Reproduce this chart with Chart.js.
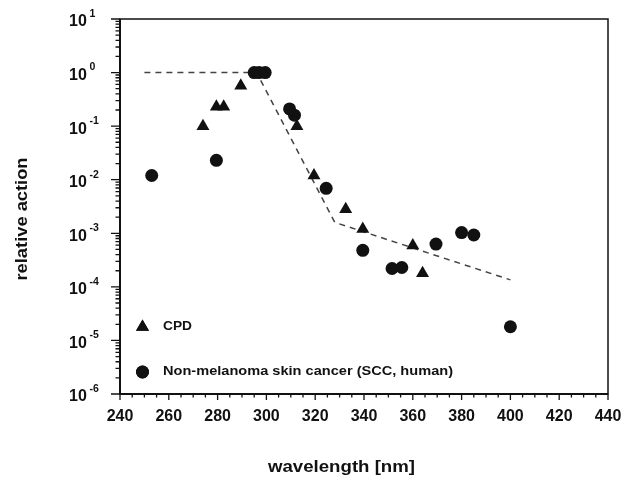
<!DOCTYPE html>
<html>
<head>
<meta charset="utf-8">
<script src="https://cdn.jsdelivr.net/npm/chart.js@4"></script>
<style>
  html, body { margin: 0; padding: 0; background: #fff; }
  #wrap { width: 632px; height: 478px; }
</style>
</head>
<body>
<div id="wrap"><canvas id="chart" width="632" height="478"></canvas></div>
<script>
// CPD action spectrum (triangles)
const cpdWavelength = [274, 279.5, 282.5, 289.5, 312.5, 319.5, 332.5, 339.5, 360, 364];
const cpdAction = [0.10, 0.23, 0.23, 0.57, 0.10, 0.012, 0.0028, 0.0012, 0.00059, 0.00018];

// Non-melanoma skin cancer, SCC human (circles)
const sccWavelength = [253, 279.5, 295, 297, 299.5, 309.5, 311.5, 324.5, 339.5, 351.5, 355.5, 369.5, 380, 385, 400];
const sccAction = [0.012, 0.023, 1.0, 1.0, 1.0, 0.21, 0.16, 0.0069, 0.00048, 0.00022, 0.00023, 0.00063, 0.00103, 0.00093, 0.000018];

// dashed reference curve
const fitWavelength = [250, 296, 328, 400];
const fitAction = [1, 1, 0.0016, 0.000135];

// axes
const xTicks = [240, 260, 280, 300, 320, 340, 360, 380, 400, 420, 440];
const yExponents = [1, 0, -1, -2, -3, -4, -5, -6];

const ink = '#111';
const FONT = '"Liberation Sans", Arial, sans-serif';

function toPoints(xs, ys) {
    return xs.map((x, i) => ({ x: x, y: ys[i] }));
}

// draw text squeezed/stretched to a given width
function fitText(ctx, text, x, y, width, font, align) {
    ctx.save();
    ctx.font = font;
    const w = ctx.measureText(text).width;
    const sx = width / w;
    ctx.translate(x, y);
    ctx.scale(sx, 1);
    ctx.textBaseline = 'middle';
    ctx.textAlign = align || 'left';
    ctx.fillText(text, 0, 0);
    ctx.restore();
}

const decorPlugin = {
    id: 'decor',
    afterDraw(chart) {
        const ctx = chart.ctx;
        const area = chart.chartArea;
        const xs = chart.scales.x;
        const ys = chart.scales.y;
        ctx.save();
        ctx.strokeStyle = ink;
        ctx.fillStyle = ink;

        // frame
        ctx.lineWidth = 1.5;
        ctx.strokeRect(area.left, area.top, area.right - area.left, area.bottom - area.top);
        ctx.lineWidth = 2;
        ctx.beginPath();
        ctx.moveTo(area.left, area.top);
        ctx.lineTo(area.left, area.bottom);
        ctx.lineTo(area.right, area.bottom);
        ctx.stroke();

        // x ticks
        ctx.lineWidth = 1.3;
        ctx.beginPath();
        for (let v = xs.min; v <= xs.max; v += 5) {
            const px = xs.getPixelForValue(v);
            const len = v % 20 === 0 ? 6 : 3.5;
            ctx.moveTo(px, area.bottom);
            ctx.lineTo(px, area.bottom + len);
        }
        // y ticks
        for (let e = -6; e <= 1; e++) {
            const py = ys.getPixelForValue(Math.pow(10, e));
            ctx.moveTo(area.left, py);
            ctx.lineTo(area.left - 9, py);
            if (e === 1) continue;
            for (let m = 2; m <= 9; m++) {
                const pm = ys.getPixelForValue(m * Math.pow(10, e));
                ctx.moveTo(area.left, pm);
                ctx.lineTo(area.left - 4.5, pm);
            }
        }
        ctx.stroke();

        // x tick labels
        ctx.font = 'bold 16px ' + FONT;
        ctx.textAlign = 'center';
        ctx.textBaseline = 'middle';
        xTicks.forEach(v => {
            ctx.fillText(String(v), xs.getPixelForValue(v), 417);
        });

        // y tick labels: 10 with superscript exponent
        yExponents.forEach(e => {
            const py = ys.getPixelForValue(Math.pow(10, e));
            ctx.textAlign = 'left';
            ctx.font = 'bold 16px ' + FONT;
            ctx.fillText('10', 69, py + 3);
            ctx.font = 'bold 10.5px ' + FONT;
            ctx.fillText(String(e), 89.5, py - 5);
        });

        // axis titles
        fitText(ctx, 'wavelength [nm]', 341.5, 467, 147, 'bold 17px ' + FONT, 'center');
        ctx.save();
        ctx.translate(23, 219);
        ctx.rotate(-Math.PI / 2);
        fitText(ctx, 'relative action', 0, 0, 123, 'bold 16px ' + FONT, 'center');
        ctx.restore();

        // legend inside the plot
        const items = [
            { style: 'triangle', radius: 7.5, label: 'CPD', y: 327, width: 29 },
            { style: 'circle', radius: 6.5, label: 'Non-melanoma skin cancer (SCC, human)', y: 372, width: 290 }
        ];
        items.forEach(it => {
            Chart.helpers.drawPoint(ctx, { pointStyle: it.style, radius: it.radius, borderWidth: 0 }, 142.5, it.y);
            ctx.fill();
            fitText(ctx, it.label, 163, it.y, it.width, 'bold 12.5px ' + FONT, 'left');
        });
        ctx.restore();
    }
};

new Chart(document.getElementById('chart'), {
    type: 'scatter',
    data: {
        datasets: [
            {
                label: 'CPD',
                data: toPoints(cpdWavelength, cpdAction),
                pointStyle: 'triangle',
                pointRadius: 7.5,
                backgroundColor: ink,
                borderColor: ink,
                borderWidth: 0,
                order: 1
            },
            {
                label: 'Non-melanoma skin cancer (SCC, human)',
                data: toPoints(sccWavelength, sccAction),
                pointStyle: 'circle',
                pointRadius: 6.5,
                backgroundColor: ink,
                borderColor: ink,
                borderWidth: 0,
                order: 0
            },
            {
                label: 'fit',
                data: toPoints(fitWavelength, fitAction),
                showLine: true,
                pointRadius: 0,
                borderColor: '#444',
                borderWidth: 1.5,
                borderDash: [6, 5],
                fill: false,
                order: 3
            }
        ]
    },
    options: {
        responsive: false,
        animation: false,
        layout: { padding: { top: 19, right: 24, left: 0, bottom: 0 } },
        plugins: {
            legend: { display: false },
            tooltip: { enabled: false }
        },
        scales: {
            x: {
                type: 'linear',
                min: 240,
                max: 440,
                ticks: { display: false },
                grid: { display: false },
                border: { display: false },
                afterFit: s => { s.height = 84; }
            },
            y: {
                type: 'logarithmic',
                min: 1e-6,
                max: 10,
                ticks: { display: false },
                grid: { display: false },
                border: { display: false },
                afterFit: s => { s.width = 120; }
            }
        }
    },
    plugins: [decorPlugin]
});
</script>
</body>
</html>
